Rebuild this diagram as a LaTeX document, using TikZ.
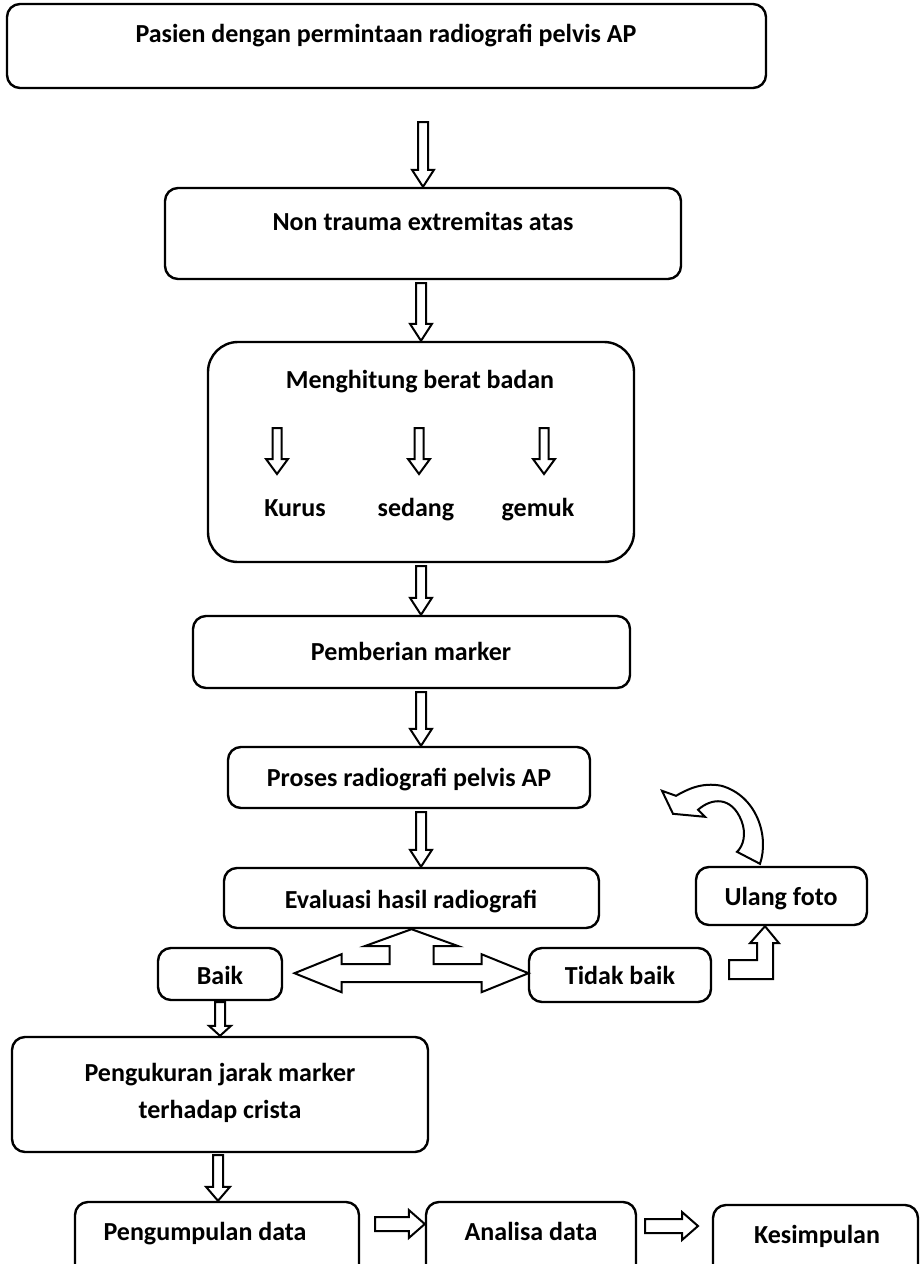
\documentclass[tikz,border=0pt]{standalone}
\usepackage{fontspec}
\setmainfont{Carlito}
\usetikzlibrary{calc,fit}
\tikzset{
  box/.style={draw, line width=2.4pt, rounded corners=13pt, inner sep=0pt},
  bigbox/.style={box, rounded corners=30pt},
  blk/.style={draw, line width=2pt, fill=white, line join=miter},
  lbl/.style={font=\fontsize{26}{31}\selectfont\bfseries, inner sep=0pt, anchor=base},
}
\newcommand\bdown[5]{%
  \draw[blk] let \p1=#1, \p2=#2 in
    (\x2-#3pt,\y1) -- (\x2-#3pt,\y2+#5pt) -- (\x2-#4pt,\y2+#5pt) -- (\x2,\y2)
    -- (\x2+#4pt,\y2+#5pt) -- (\x2+#3pt,\y2+#5pt) -- (\x2+#3pt,\y1) -- cycle;}
\newcommand\bright[5]{%
  \draw[blk] let \p1=#1, \p2=#2 in
    (\x1,\y2+#3pt) -- (\x2-#5pt,\y2+#3pt) -- (\x2-#5pt,\y2+#4pt) -- (\x2,\y2)
    -- (\x2-#5pt,\y2-#4pt) -- (\x2-#5pt,\y2-#3pt) -- (\x1,\y2-#3pt) -- cycle;}
\begin{document}
\begin{tikzpicture}[x=1pt,y=-1pt]
\useasboundingbox (0,0) rectangle (920,1264);
\clip (0,0) rectangle (920,1264);

% boxes
\node[box, fit={(7,4) (766,88)}] (b1) {};
\node[box, fit={(165,188) (681,279)}] (b2) {};
\node[bigbox, fit={(208,342) (634,562)}] (b3) {};
\node[box, fit={(193,616) (630,688)}] (b4) {};
\node[box, fit={(228,747) (590,808)}] (b5) {};
\node[box, fit={(224,868) (599,928)}] (b6) {};
\node[box, fit={(696,867) (867,925)}] (uf) {};
\node[box, fit={(158,948) (282,1000)}] (bk) {};
\node[box, fit={(529,948) (711,1002)}] (tb) {};
\node[box, fit={(12,1037) (428,1152)}] (b7) {};
\node[box, fit={(75,1202) (359,1300)}] (b8) {};
\node[box, fit={(426,1202) (636,1300)}] (b9) {};
\node[box, fit={(713,1205) (918,1300)}] (b10) {};

% texts
\node[lbl] (t1) at (386,42) {Pasien dengan permintaan radiografi pelvis AP};
\node[lbl] (t2) at (423,230) {Non trauma extremitas atas};
\node[lbl] (t3) at (420,388) {Menghitung berat badan};
\node[lbl] (kurus) at (295,516) {Kurus};
\node[lbl] (sedang) at (416,516) {sedang};
\node[lbl] (gemuk) at (538,516) {gemuk};
\node[lbl] (t4) at (411,660) {Pemberian marker};
\node[lbl] (t5) at (409,786) {Proses radiografi pelvis AP};
\node[lbl] (t6) at (411,908) {Evaluasi hasil radiografi};
\node[lbl] (tuf) at (781,905) {Ulang foto};
\node[lbl] (tbk) at (220,984) {Baik};
\node[lbl] (ttb) at (620,984) {Tidak baik};
\node[lbl] (t7a) at (220,1081) {Pengukuran jarak marker};
\node[lbl] (t7b) at (220,1118) {terhadap crista};
\node[lbl] (t8) at (205,1240) {Pengumpulan data};
\node[lbl] (t9) at (531,1240) {Analisa data};
\node[lbl] (t10) at (817,1243) {Kesimpulan};

% main vertical block arrows
\bdown{($(b1.south)+(0,33)$)}{(b2.north)}{5}{11}{17}
\bdown{($(b2.south)+(0,3)$)}{(b3.north)}{5}{11}{17}
\bdown{($(b3.south)+(0,3)$)}{(b3.south |- b4.north)}{5}{11}{17}
\bdown{($(b4.south)+(0,3)$)}{(b3.south |- b5.north)}{5}{11}{17}
\bdown{($(b5.south)+(0,3)$)}{(b3.south |- b6.north)}{5}{11}{17}

% small arrows inside box 3
\coordinate (ka) at (277,428); \coordinate (kb) at (277,474);
\coordinate (sa) at (419,428); \coordinate (sb) at (419,474);
\coordinate (ga) at (544,428); \coordinate (gb) at (544,474);
\bdown{(ka)}{(kb)}{4.5}{11}{15}
\bdown{(sa)}{(sb)}{4.5}{11}{15}
\bdown{(ga)}{(gb)}{4.5}{11}{15}

% Evaluasi -> Baik / Tidak baik (T-shaped block arrow)
\begin{scope}[shift={(b6.south)}]
\draw[blk] (0,0) -- (47,17) -- (22,17) -- (22,35) -- (70,35) -- (70,25) -- (117,44)
  -- (70,63) -- (70,53) -- (-70,53) -- (-70,63) -- (-117,44) -- (-70,25) -- (-70,35)
  -- (-22,35) -- (-22,17) -- (-47,17) -- cycle;
\end{scope}

% Tidak baik -> Ulang foto (bent up arrow)
\begin{scope}[shift={(uf.south)}]
\draw[blk] (-52.5,34) -- (-24.5,34) -- (-24.5,17) -- (-31.5,17) -- (-16.5,0) -- (-2.5,17)
  -- (-8.5,17) -- (-8.5,53) -- (-52.5,53) -- cycle;
\end{scope}

% Ulang foto curved arrow back
\begin{scope}[shift={(uf.north)}]
\draw[blk] (-119.5,-75) -- (-108.5,-52) -- (-76.5,-49) -- (-83.5,-56)
  .. controls (-70,-68) and (-50,-70) .. (-40,-45)
  .. controls (-35,-32) and (-38,-20) .. (-44.5,-14)
  -- (-21.5,-2)
  .. controls (-12,-30) and (-25,-70) .. (-60,-80)
  .. controls (-80,-84) and (-95,-76) .. (-105.5,-70) -- cycle;
\end{scope}

% Baik -> Pengukuran, Pengukuran -> Pengumpulan
\bdown{($(bk.south)+(0,1)$)}{(bk.south |- b7.north)}{5}{11}{10}
\bdown{($(b7.south)+(-2,2)$)}{($(b7.south |- b8.north)+(-2,0)$)}{5}{12}{14}

% horizontal arrows
\coordinate (ha) at (375,1224);
\coordinate (hb) at (645,1226);
\coordinate (hbt) at (698,1226);
\bright{(ha)}{(b9.west |- ha)}{7}{14}{16}
\bright{(hb)}{(hbt)}{7}{14}{16}
\end{tikzpicture}
\end{document}
